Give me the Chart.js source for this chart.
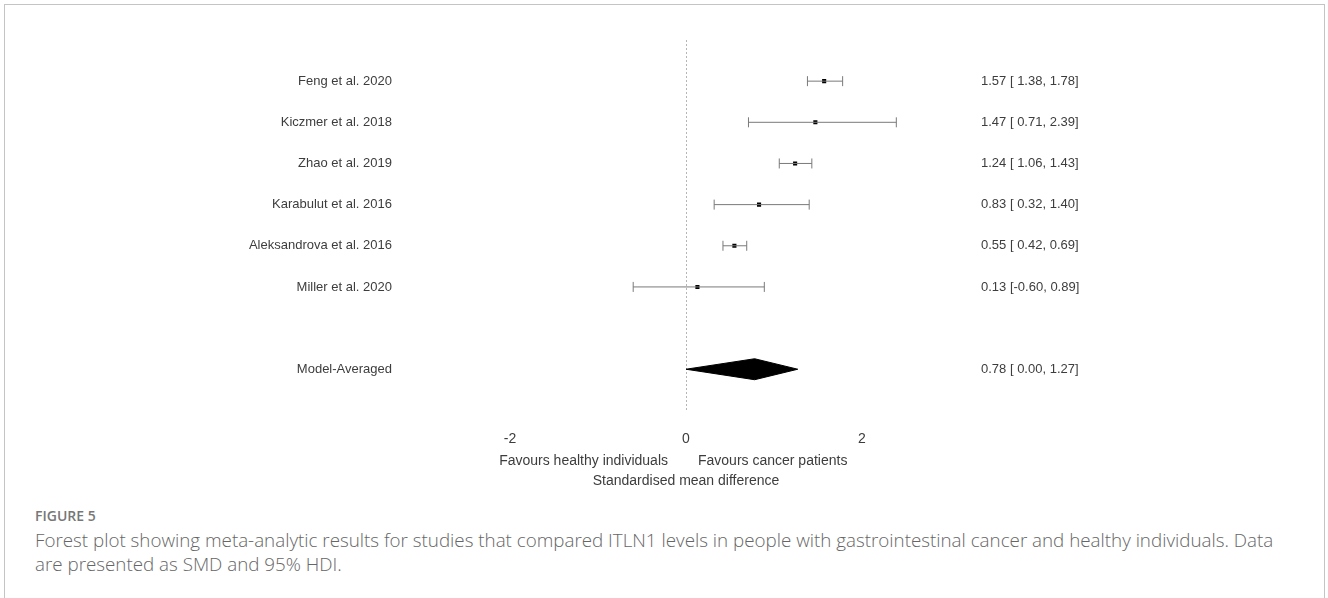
<!DOCTYPE html>
<html>
<head>
<meta charset="utf-8">
<script src="https://cdn.jsdelivr.net/npm/chart.js@4.4.1/dist/chart.umd.min.js"></script>
<style>
  html, body { margin: 0; padding: 0; background: #fff; width: 1328px; height: 598px; overflow: hidden; }
  #frame { position: absolute; left: 4px; top: 4px; width: 1321px; height: 620px; border: 1px solid #c4c4c4; box-sizing: border-box; }
  #wrap { position: absolute; left: 0; top: 0; width: 1328px; height: 490px; }
  #cap { position: absolute; left: 35px; top: 504px; font-family: "Open Sans", sans-serif; color: #666; white-space: nowrap; }
  #cap .fig { font-size: 14px; font-weight: 600; line-height: 24px; color: #777; }
  #cap .txt { font-size: 18.8px; font-weight: 300; line-height: 24px; }
</style>
</head>
<body>
<div id="frame"></div>
<div id="wrap"><canvas id="c" width="1328" height="490"></canvas></div>
<div id="cap">
  <div class="fig">FIGURE 5</div>
  <div class="txt">Forest plot showing meta-analytic results for studies that compared ITLN1 levels in people with gastrointestinal cancer and healthy individuals. Data<br>are presented as SMD and 95% HDI.</div>
</div>
<script>
// ---- data ----
const studies = ['Feng et al. 2020', 'Kiczmer et al. 2018', 'Zhao et al. 2019', 'Karabulut et al. 2016', 'Aleksandrova et al. 2016', 'Miller et al. 2020'];
const estimates = [1.57, 1.47, 1.24, 0.83, 0.55, 0.13];
const lowers = [1.38, 0.71, 1.06, 0.32, 0.42, -0.60];
const uppers = [1.78, 2.39, 1.43, 1.40, 0.69, 0.89];
const studyRows = [0, 1, 2, 3, 4, 5];

const pooledLabel = 'Model-Averaged';
const pooledEstimate = 0.78;
const pooledLower = 0.00;
const pooledUpper = 1.27;
const pooledRow = 7;

const xTicks = [-2, 0, 2];
const xTitle = 'Standardised mean difference';
const leftNote = 'Favours healthy individuals';
const rightNote = 'Favours cancer patients';

// ---- styles ----
const TEXT = '#3d3d3d';
const CI = '#7a7a7a';
const FONT = '"Liberation Sans", Arial, sans-serif';
const DIAMOND_HALF = 0.255;

function fmt(e, lo, hi) {
  return e.toFixed(2) + ' [' + lo.toFixed(2).padStart(5, ' ') + ', ' + hi.toFixed(2) + ']';
}

const datasets = [];
studies.forEach((s, i) => {
  datasets.push({
    label: s,
    data: [{x: lowers[i], y: studyRows[i]}, {x: uppers[i], y: studyRows[i]}],
    showLine: true,
    borderColor: CI,
    borderWidth: 1,
    pointStyle: 'line',
    rotation: 90,
    pointRadius: 5,
    pointBorderColor: CI,
    pointBorderWidth: 1,
    pointBackgroundColor: CI
  });
});
datasets.push({
  label: 'estimates',
  data: estimates.map((e, i) => ({x: e, y: studyRows[i]})),
  showLine: false,
  pointStyle: 'rect',
  pointRadius: 2.9,
  pointBackgroundColor: '#000',
  pointBorderColor: '#000',
  pointBorderWidth: 0
});
datasets.push({
  label: pooledLabel,
  data: [
    {x: pooledLower, y: pooledRow},
    {x: pooledEstimate, y: pooledRow - DIAMOND_HALF},
    {x: pooledUpper, y: pooledRow},
    {x: pooledEstimate, y: pooledRow + DIAMOND_HALF},
    {x: pooledLower, y: pooledRow}
  ],
  showLine: true,
  fill: 'shape',
  backgroundColor: '#000',
  borderColor: '#000',
  borderWidth: 1,
  pointRadius: 0,
  tension: 0
});

const textPlugin = {
  id: 'forestText',
  afterDraw(chart) {
    const {ctx, chartArea, scales: {x, y}} = chart;
    ctx.save();
    ctx.fillStyle = TEXT;
    ctx.textBaseline = 'middle';
    ctx.font = '13px ' + FONT;
    studies.forEach((s, i) => {
      const py = y.getPixelForValue(studyRows[i]);
      ctx.textAlign = 'right';
      ctx.fillText(s, chartArea.left - 30, py);
      ctx.textAlign = 'left';
      ctx.fillText(fmt(estimates[i], lowers[i], uppers[i]), chartArea.right + 31, py);
    });
    const pp = y.getPixelForValue(pooledRow);
    ctx.textAlign = 'right';
    ctx.fillText(pooledLabel, chartArea.left - 30, pp);
    ctx.textAlign = 'left';
    ctx.fillText(fmt(pooledEstimate, pooledLower, pooledUpper), chartArea.right + 31, pp);

    ctx.font = '14px ' + FONT;
    const x0 = x.getPixelForValue(0);
    const ny = chartArea.bottom + 50;
    ctx.textAlign = 'right';
    ctx.fillText(leftNote, x0 - 18, ny);
    ctx.textAlign = 'left';
    ctx.fillText(rightNote, x0 + 12, ny);
    ctx.restore();
  }
};

new Chart(document.getElementById('c'), {
  type: 'scatter',
  data: { datasets },
  plugins: [textPlugin],
  options: {
    responsive: false,
    animation: false,
    events: [],
    layout: { padding: { left: 422, right: 378, top: 40, bottom: 0 } },
    plugins: { legend: { display: false }, tooltip: { enabled: false } },
    scales: {
      x: {
        type: 'linear',
        position: 'bottom',
        min: -3,
        max: 3,
        afterBuildTicks: (s) => { s.ticks = xTicks.map(v => ({value: v})); },
        ticks: {
          padding: 20,
          color: TEXT,
          font: { family: FONT, size: 14 },
          callback: (v) => String(v)
        },
        grid: {
          drawTicks: false,
          lineWidth: 1,
          color: (c) => (c.tick && c.tick.value === 0) ? '#b5b5b5' : 'rgba(0,0,0,0)'
        },
        border: { display: false, dash: [2, 2] },
        title: {
          display: true,
          text: xTitle,
          color: TEXT,
          font: { family: FONT, size: 14 },
          padding: { top: 5.6, bottom: 0 }
        }
      },
      y: {
        type: 'linear',
        display: false,
        reverse: true,
        min: -1.0,
        max: 8.01
      }
    }
  }
});
</script>
</body>
</html>
